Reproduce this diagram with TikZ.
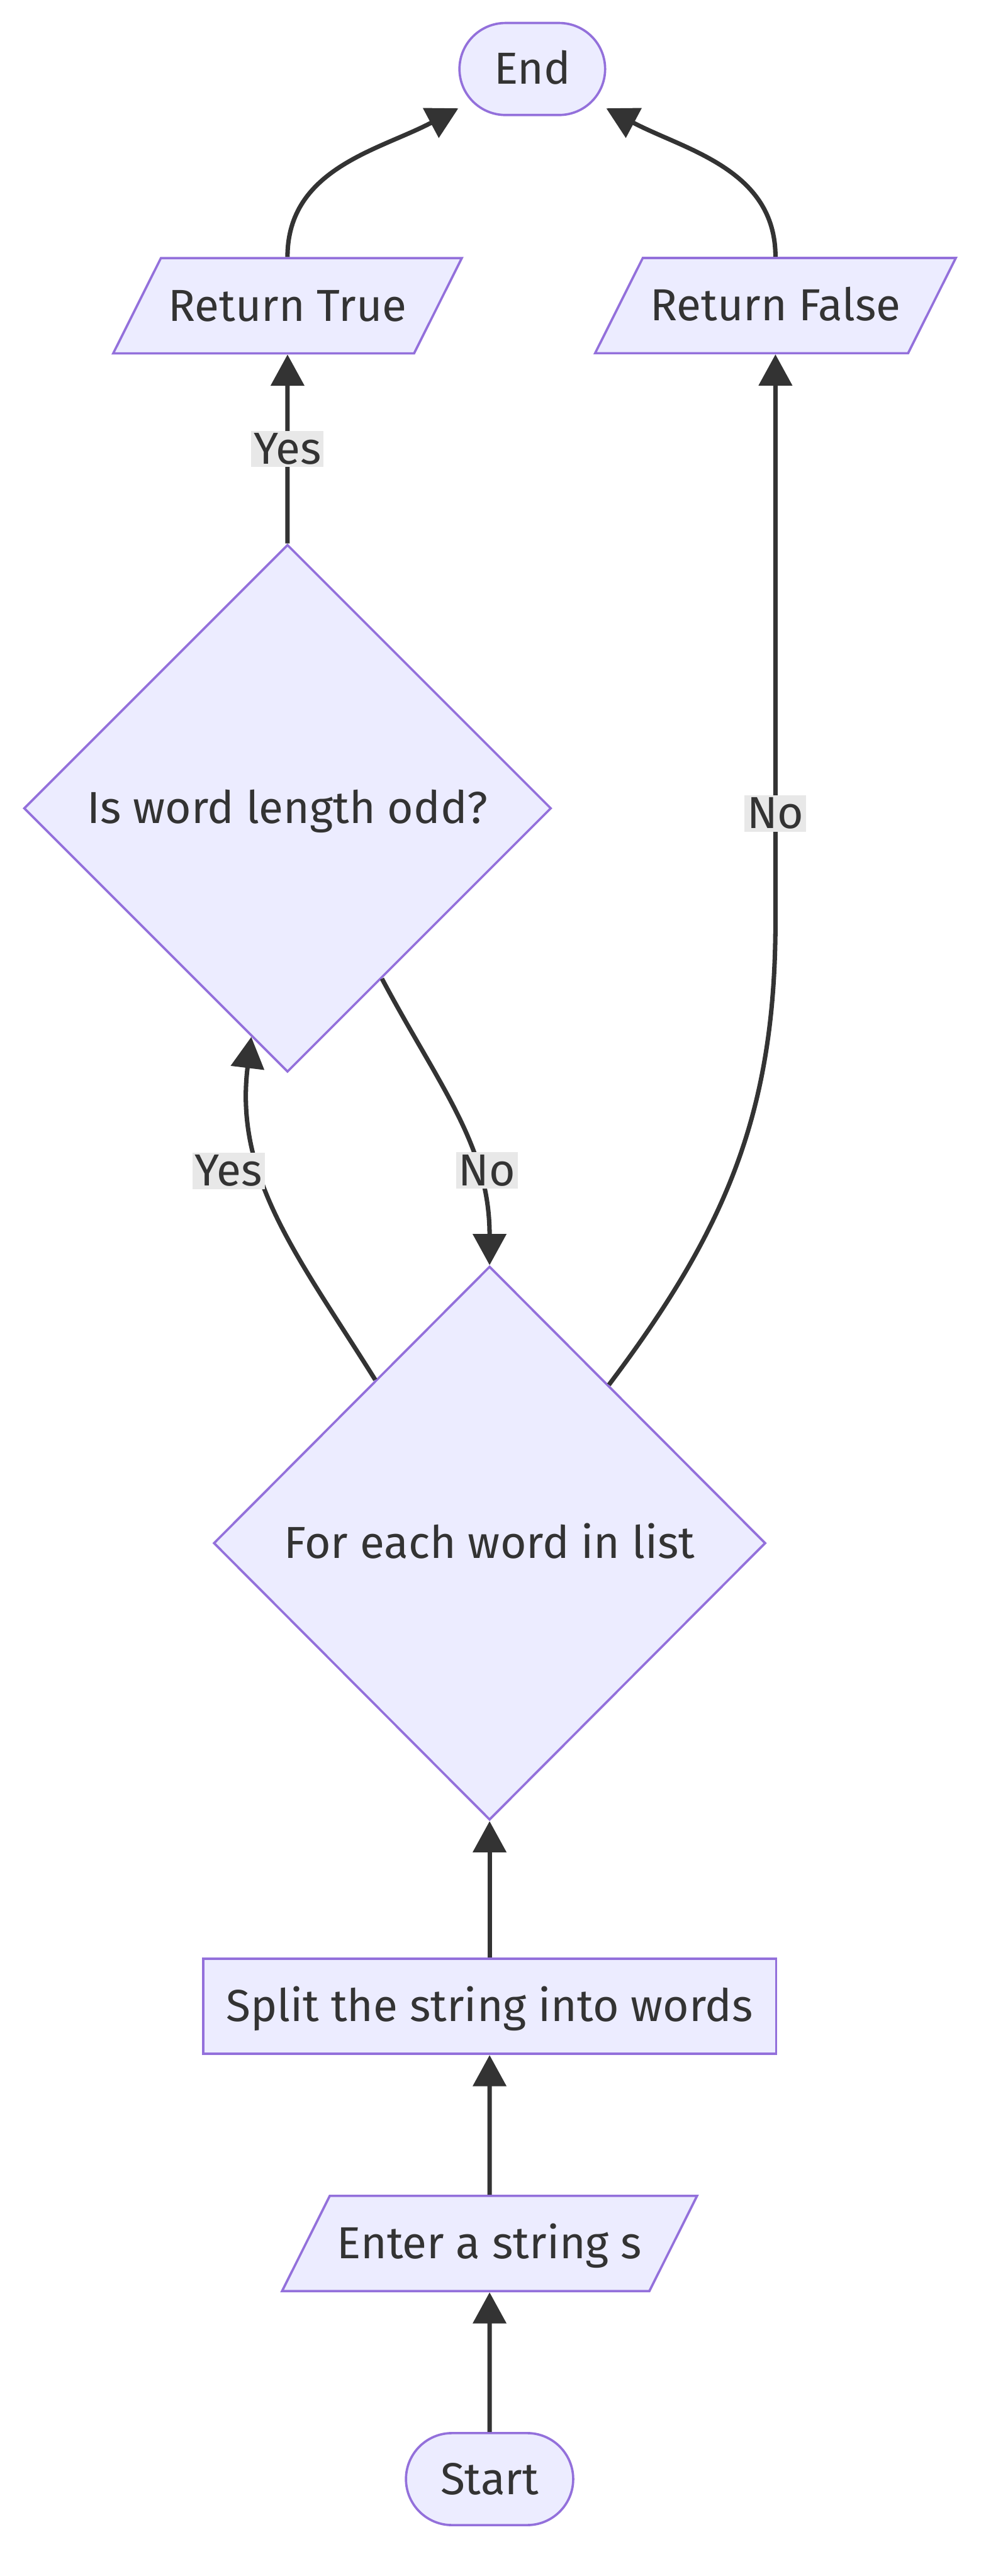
\documentclass[tikz,border=0pt]{standalone}
\usepackage{fontspec}
\setmainfont{Fira Sans}
\usetikzlibrary{shapes.geometric, positioning, arrows.meta}
\definecolor{nodefill}{HTML}{ECECFF}
\definecolor{nodeline}{HTML}{9370DB}
\definecolor{edgeline}{HTML}{333333}
\definecolor{lblfill}{HTML}{E8E8E8}

\begin{document}
\begin{tikzpicture}[x=1pt, y=1pt, >={Triangle[length=19pt,width=20pt]}, font=\fontsize{27.3}{32}\selectfont]
  \tikzstyle{base} = [draw=nodeline, fill=nodefill, line width=1.4pt, text=edgeline, text height=21pt, text depth=2.4pt]
  \tikzstyle{term} = [base, rectangle, rounded corners=28pt, minimum height=56pt, inner xsep=21pt]
  \tikzstyle{io} = [base, trapezium, trapezium left angle=63.4, trapezium right angle=116.6, inner ysep=17.3pt, inner xsep=4.5pt]
  \tikzstyle{proc} = [base, rectangle, minimum height=58pt, inner xsep=14pt]
  \tikzstyle{decision} = [base, diamond, inner sep=0pt]
  \tikzstyle{edge} = [draw=edgeline, line width=2.7pt, ->]
  \tikzstyle{lbl} = [fill=lblfill, text=edgeline, inner sep=1.5pt]
  \useasboundingbox (0,0) rectangle (600,-1568);

  \node [term] (start) at (298,-1509) {Start};
  \node [io, above=85pt of start] (enter) {Enter a string s};
  \node [proc, above=85pt of enter] (split) {Split the string into words};
  \node [decision, minimum width=336pt, minimum height=337pt, above=83pt of split] (foreach) {For each word in list};
  \node [decision, minimum width=321pt, minimum height=321pt] (isodd) at (175,-492) {Is word length odd?};
  \node [io, above=115pt of isodd] (rtrue) {Return True};
  \node [io] (rfalse) at (472,-186) {Return False};
  \node [term] (end) at (324,-42) {End};

  \draw [edge] (start) -- (enter);
  \draw [edge] (enter) -- (split);
  \draw [edge] (split) -- (foreach);
  \draw [edge] (foreach.125) to[out=122, in=-97] node[lbl, pos=0.64, xshift=-20pt] {Yes} (isodd.261);
  \draw [edge] (isodd.299) to[out=-62, in=90] node[lbl, pos=0.70, xshift=6pt] {No} (foreach.north);
  \draw [edge] (isodd) -- node[lbl] {Yes} (rtrue);
  \draw [edge] (foreach.53) to[out=53, in=-90] ([yshift=-345pt]rfalse.270) -- node[lbl, pos=0.19] {No} (rfalse.270);
  \draw [edge] (rtrue.90) to[out=90, in=208] (end.208);
  \draw [edge] (rfalse.90) to[out=90, in=-28] (end.-28);
\end{tikzpicture}
\end{document}
